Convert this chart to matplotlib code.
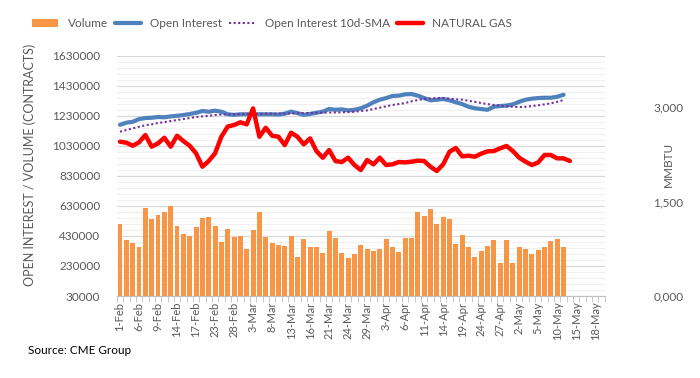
import numpy as np
import pandas as pd
import matplotlib
matplotlib.use("Agg")
import matplotlib.pyplot as plt
from matplotlib.ticker import FuncFormatter, FixedLocator

plt.rcParams['font.family'] = ['Lato', 'DejaVu Sans']

# trading days 1-Feb .. 19-May (20-Feb holiday)
days = pd.bdate_range("2023-02-01", "2023-05-19")
days = days[days != pd.Timestamp("2023-02-20")]
labels = [f"{d.day}-{d.strftime('%b')}" for d in days]

volume = [512000, 405000, 385000, 358000, 619000, 545000, 572000, 592000, 632000, 499000,
          445000, 432000, 492000, 552000, 559000, 499000, 392000, 479000, 425000, 432000,
          345000, 472000, 592000, 425000, 385000, 371000, 365000, 432000, 291000, 412000,
          358000, 358000, 318000, 465000, 418000, 318000, 284000, 311000, 371000, 345000,
          331000, 345000, 412000, 358000, 325000, 418000, 418000, 592000, 566000, 612000,
          512000, 559000, 545000, 378000, 438000, 358000, 291000, 331000, 365000, 405000,
          251000, 405000, 251000, 358000, 345000, 311000, 338000, 358000, 398000, 412000,
          358000]

open_interest = [1170000, 1184000, 1190000, 1208000, 1215000, 1217000, 1222000, 1220000, 1226000, 1230000,
                 1235000, 1242000, 1250000, 1262000, 1257000, 1264000, 1257000, 1240000, 1236000, 1240000,
                 1240000, 1240000, 1240000, 1240000, 1240000, 1238000, 1244000, 1258000, 1248000, 1236000,
                 1242000, 1250000, 1258000, 1275000, 1270000, 1273000, 1266000, 1270000, 1280000, 1297000,
                 1320000, 1337000, 1348000, 1362000, 1364000, 1373000, 1375000, 1364000, 1348000, 1333000,
                 1337000, 1342000, 1333000, 1320000, 1308000, 1290000, 1280000, 1275000, 1270000, 1290000,
                 1295000, 1298000, 1306000, 1323000, 1337000, 1344000, 1348000, 1350000, 1350000, 1357000,
                 1370000]

oi_sma = [1124000, 1135000, 1146000, 1157000, 1167000, 1173000, 1182000, 1188000, 1195000, 1202000,
          1208000, 1215000, 1222000, 1226000, 1230000, 1235000, 1238000, 1240000, 1241000, 1242000,
          1242000, 1243000, 1243000, 1244000, 1244000, 1244000, 1245000, 1246000, 1247000, 1248000,
          1249000, 1250000, 1251000, 1252000, 1252000, 1253000, 1255000, 1257000, 1262000, 1266000,
          1275000, 1284000, 1293000, 1302000, 1308000, 1315000, 1326000, 1335000, 1342000, 1346000,
          1348000, 1348000, 1344000, 1340000, 1337000, 1330000, 1323000, 1315000, 1308000, 1302000,
          1297000, 1293000, 1290000, 1288000, 1290000, 1295000, 1300000, 1306000, 1313000, 1323000,
          1335000]

nat_gas = [2449, 2433, 2385, 2439, 2555, 2370, 2423, 2512, 2370, 2544,
           2460, 2385, 2265, 2052, 2142, 2265, 2528, 2690, 2714, 2757,
           2725, 2978, 2528, 2671, 2544, 2528, 2396, 2592, 2528, 2407,
           2502, 2301, 2195, 2317, 2142, 2127, 2195, 2079, 2000, 2158,
           2090, 2195, 2079, 2090, 2127, 2121, 2132, 2148, 2142, 2052,
           1984, 2090, 2290, 2349, 2217, 2227, 2211, 2259, 2296, 2301,
           2344, 2381, 2301, 2195, 2132, 2079, 2121, 2238, 2238, 2185,
           2185, 2142]

grey = '#595959'

fig = plt.figure(figsize=(7, 3.78), dpi=100)
ax = fig.add_axes([0.1669, 0.2169, 0.697, 0.6357])
ax2 = ax.twinx()

x = np.arange(len(labels))
bars = ax.bar(x[:len(volume)], volume, width=0.78, color='#F79646', label='Volume', zorder=2)
oi_line, = ax.plot(x[:len(open_interest)], open_interest, color='#4F81BD', lw=3,
                   label='Open Interest', solid_capstyle='round', zorder=3)
sma_line, = ax.plot(x[:len(oi_sma)], oi_sma, color='#7030A0', lw=1.5, ls=(0, (1, 1.2)),
                    label='Open Interest 10d-SMA', zorder=4)
ng_line, = ax2.plot(x[:len(nat_gas)], nat_gas, color='#FF0000', lw=3.2, label='NATURAL GAS',
                    solid_capstyle='round')

ax.set_xlim(-0.5, len(labels) - 0.5)
ax.set_ylim(30000, 1630000)
ax2.set_ylim(0, 3814)

ax.yaxis.set_major_locator(FixedLocator(np.arange(30000, 1630001, 200000)))
ax.yaxis.set_minor_locator(FixedLocator(np.arange(30000, 1630001, 40000)))
ax.yaxis.set_major_formatter(FuncFormatter(lambda v, p: f"{int(round(v))}"))
ax.grid(axis='y', which='major', color='#D9D9D9', lw=0.9, zorder=0)
ax.grid(axis='y', which='minor', color='#EFEFEF', lw=0.8, zorder=0)
ax.set_axisbelow(True)

ax2.yaxis.set_major_locator(FixedLocator([0, 1500, 3000]))
ax2.yaxis.set_major_formatter(FuncFormatter(lambda v, p: f"{int(v) // 1000},{int(v) % 1000:03d}"))

ax.set_xticks(x[::3])
ax.set_xticklabels(labels[::3], rotation=90)
ax.set_xticks(np.arange(-0.5, len(labels), 1), minor=True)
ax.tick_params(axis='x', which='major', length=0, labelsize=8, colors=grey, pad=4)
ax.tick_params(axis='x', which='minor', length=4, color='#BFBFBF')
ax.tick_params(axis='y', which='both', length=0, labelsize=8.5, colors=grey, pad=12)
ax2.tick_params(axis='y', length=0, labelsize=8.5, colors=grey, pad=35)

for a in (ax, ax2):
    for s in ['top', 'left', 'right']:
        a.spines[s].set_visible(False)
ax.spines['bottom'].set_color('#BFBFBF')
ax2.spines['bottom'].set_visible(False)

fig.text(0.043, 0.565, 'OPEN INTEREST / VOLUME (CONTRACTS)', fontsize=9, color=grey,
         rotation=90, ha='center', va='center')
fig.text(0.955, 0.565, 'MMBTU', fontsize=8.5, color=grey, rotation=90, ha='center', va='center')

fig.legend([bars, oi_line, sma_line, ng_line],
           ['Volume', 'Open Interest', 'Open Interest 10d-SMA', 'NATURAL GAS'],
           ncol=4, loc='center', bbox_to_anchor=(0.389, 0.938),
           frameon=False, fontsize=8.5, labelcolor=grey, handlelength=2.2,
           handleheight=0.6, columnspacing=0.6, handletextpad=0.8)

fig.text(0.04, 0.063, 'Source: CME Group', fontsize=8.5, color='black')

fig.savefig('out.png', dpi=100)
